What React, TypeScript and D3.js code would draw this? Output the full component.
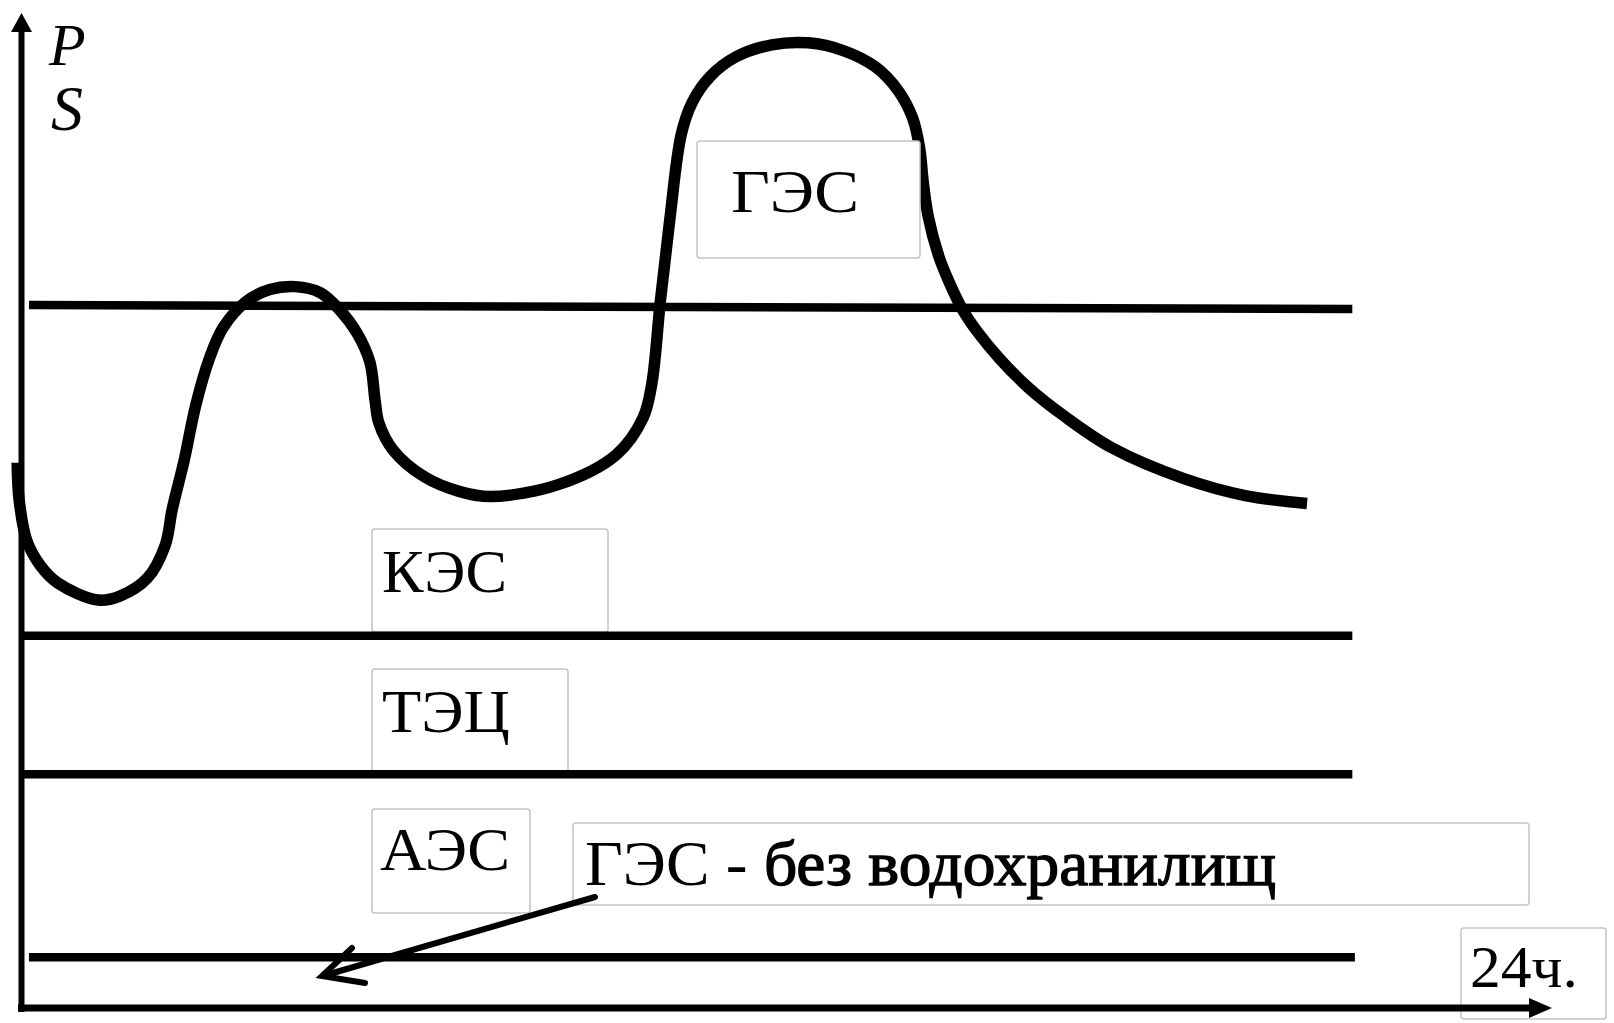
import React from "react";
import * as d3 from "d3";

// daily load curve: hours and power (relative units)
const hours = [
  -0.06, -0.03, 0.09, 0.3, 0.58, 1.21, 1.55, 1.98, 2.26, 2.37, 2.56, 2.74, 2.96, 3.17, 3.53, 3.9,
  4.3, 4.69, 4.99, 5.27, 5.47, 5.55, 5.61, 5.83, 6.32, 6.88, 7.37, 8.42, 9.33, 9.75, 9.89, 10.02,
  10.17, 10.35, 10.52, 10.8, 11.21, 11.77, 12.34, 12.9, 13.39, 13.75, 13.98, 14.09,
  14.14, 14.22, 14.39, 14.56, 14.75, 15.0, 15.35, 15.8, 16.35, 17.1, 18.23, 19.19, 20.16,
];
const load = [
  54.8, 51.1, 47.0, 44.5, 42.7, 41.0, 41.4, 43.2, 46.5, 50.1, 55.1, 60.6, 65.4, 68.4, 71.0, 72.2,
  72.5, 71.9, 70.2, 67.8, 64.9, 61.1, 58.8, 56.1, 53.4, 51.9, 51.4, 52.6, 55.6, 59.3, 62.8, 70.9,
  79.2, 87.8, 91.0, 93.6, 95.6, 96.8, 97.0, 96.2, 94.6, 92.2, 89.4, 86.3,
  83.2, 79.6, 75.5, 72.8, 70.3, 67.9, 65.2, 62.3, 59.5, 56.3, 53.2, 51.5, 50.7,
];

// zone boundaries (power level at start / end, hour span)
const boundaryStartLevel = [70.65, 37.4, 23.5, 5.1];
const boundaryEndLevel = [70.25, 37.4, 23.5, 5.1];
const boundaryStartHour = [0.125, 0, 0, 0.125];
const boundaryEndHour = [20.87, 20.87, 20.87, 20.91];

const zoneLabels = ["ГЭС", "КЭС", "ТЭЦ", "АЭС"];
const noteCaps = "ГЭС - ";
const noteRest = "без водохранилищ";
const timeLabel = "24ч.";
const axisLabels = ["P", "S"];

const W = 1614;
const H = 1023;
const FONT = "'Liberation Serif', 'Times New Roman', serif";

export default function App() {
  const x = d3.scaleLinear().domain([0, 24]).range([21, 1552]);
  const y = d3.scaleLinear().domain([0, 100]).range([1008, 13]);

  const curve = d3
    .line<number>()
    .x((_, i) => x(hours[i]))
    .y((d) => y(d))
    .curve(d3.curveCatmullRom.alpha(0.5));

  const boxes = [
    { x: 697, y: 141, w: 223, h: 117 },
    { x: 372, y: 529, w: 236, h: 103 },
    { x: 372, y: 669, w: 196, h: 104 },
    { x: 372, y: 809, w: 158, h: 104 },
  ];
  const textPos = [
    { x: 731, y: 212, len: 128 },
    { x: 382, y: 592, len: 125 },
    { x: 382, y: 732, len: 128 },
    { x: 380, y: 870, len: 130 },
  ];

  const x0 = x(0);
  const yAxisTop = y(100);
  const xAxisEnd = x(24);

  return (
    <svg
      width={W}
      height={H}
      style={{ position: "absolute", left: 0, top: 0, background: "#fff" }}
    >
      <rect width={W} height={H} fill="#fff" />

      {/* load curve */}
      <path d={curve(load) || ""} fill="none" stroke="#000" strokeWidth={11.5} strokeLinejoin="round" />

      {/* label boxes */}
      {boxes.map((b, i) => (
        <rect key={i} x={b.x} y={b.y} width={b.w} height={b.h} rx={3} fill="#fff" stroke="#c4c4c4" strokeWidth={1.5} />
      ))}
      <rect x={573} y={823} width={956} height={82} rx={3} fill="#fff" stroke="#c4c4c4" strokeWidth={1.5} />
      <rect x={1461} y={928} width={145} height={91} rx={3} fill="none" stroke="#c4c4c4" strokeWidth={1.5} />

      {/* zone boundaries */}
      {boundaryStartLevel.map((lv, i) => (
        <line
          key={i}
          x1={x(boundaryStartHour[i])}
          x2={x(boundaryEndHour[i])}
          y1={y(lv)}
          y2={y(boundaryEndLevel[i])}
          stroke="#000"
          strokeWidth={8.5}
        />
      ))}

      {/* axes */}
      <line x1={x0 + 0.5} x2={x0 + 0.5} y1={1012} y2={yAxisTop + 18} stroke="#000" strokeWidth={6} />
      <path d={`M${x0 + 0.5},${yAxisTop} L${x0 - 10},${yAxisTop + 19} L${x0 + 11},${yAxisTop + 19} Z`} fill="#000" />
      <line x1={18} x2={xAxisEnd - 20} y1={y(0)} y2={y(0)} stroke="#000" strokeWidth={7} />
      <path d={`M${xAxisEnd},${y(0)} L${xAxisEnd - 23},${y(0) - 10} L${xAxisEnd - 23},${y(0) + 10} Z`} fill="#000" />

      {/* arrow to the bottom band */}
      <line x1={595} y1={897} x2={326} y2={975} stroke="#000" strokeWidth={6} strokeLinecap="round" />
      <path d="M352,948 L322,976 L365,983" fill="none" stroke="#000" strokeWidth={6} strokeLinecap="round" strokeLinejoin="miter" />

      {/* texts */}
      <g fontFamily={FONT} fill="#000">
        {zoneLabels.map((t, i) => (
          <text
            key={t}
            x={textPos[i].x}
            y={textPos[i].y}
            fontSize={61}
            textLength={textPos[i].len}
            lengthAdjust="spacingAndGlyphs"
          >
            {t}
          </text>
        ))}
        <text x={585} y={885} fontSize={63} textLength={691} lengthAdjust="spacingAndGlyphs">
          <tspan>{noteCaps}</tspan>
          <tspan stroke="#000" strokeWidth={1.3}>{noteRest}</tspan>
        </text>
        <text x={1470} y={987} fontSize={60} textLength={108} lengthAdjust="spacingAndGlyphs">
          {timeLabel}
        </text>
        <text x={49} y={65} fontSize={60} fontStyle="italic">
          {axisLabels[0]}
        </text>
        <text x={51} y={130} fontSize={64} fontStyle="italic">
          {axisLabels[1]}
        </text>
      </g>
    </svg>
  );
}
